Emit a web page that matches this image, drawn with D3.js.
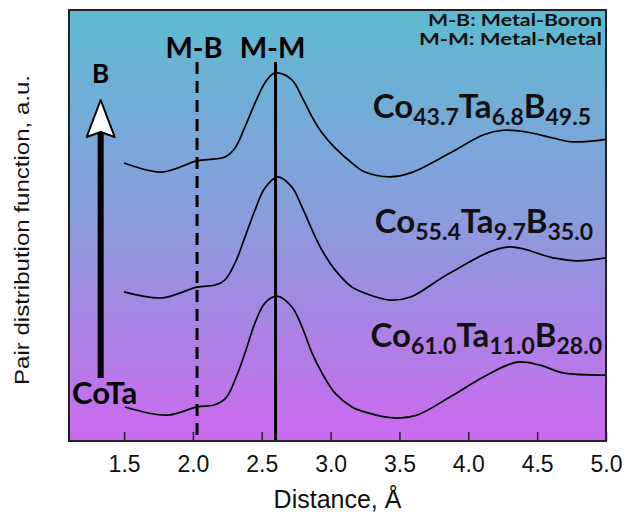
<!DOCTYPE html>
<html>
<head>
<meta charset="utf-8">
<script src="https://cdn.jsdelivr.net/npm/d3@7"></script>
<style>
  body { margin: 0; background: #fff; }
  svg { display: block; }
</style>
</head>
<body>
<div id="chart"></div>
<script>
const width = 635;
const height = 516;

// distance ticks (Å)
const xTicks = [1.5, 2.0, 2.5, 3.0, 3.5, 4.0, 4.5, 5.0];

// bond distance markers
const markers = [
  { label: "M-B", x: 2.03, dashed: true },
  { label: "M-M", x: 2.60, dashed: false }
];

// G(r) curves, already offset, arbitrary units
const coTa28 = [
  [1.507, 0.79], [1.812, 0.60], [2.03, 0.79], [2.16, 0.84], [2.24, 1.00],
  [2.306, 1.42], [2.378, 2.04], [2.451, 2.74], [2.523, 3.20], [2.61, 3.36],
  [2.719, 3.11], [2.792, 2.65], [2.865, 2.04], [2.937, 1.58], [3.032, 1.11],
  [3.155, 0.79], [3.25, 0.67], [3.482, 0.53], [3.627, 0.60], [3.867, 1.02],
  [4.107, 1.48], [4.353, 1.83], [4.52, 1.76], [4.688, 1.58], [5.00, 1.53]
];
const coTa35 = [
  [1.5, 3.46], [1.775, 3.32], [2.03, 3.57], [2.16, 3.62], [2.233, 3.74],
  [2.306, 4.13], [2.378, 4.73], [2.451, 5.36], [2.523, 5.87], [2.617, 6.13],
  [2.719, 5.89], [2.792, 5.43], [2.865, 4.90], [2.937, 4.43], [3.032, 3.97],
  [3.155, 3.57], [3.25, 3.43], [3.431, 3.27], [3.58, 3.34], [3.867, 3.90],
  [4.28, 4.50], [4.615, 4.25], [4.79, 4.18], [5.00, 4.25]
];
const coTa49 = [
  [1.5, 6.45], [1.775, 6.24], [2.03, 6.50], [2.15, 6.54], [2.233, 6.59],
  [2.306, 6.80], [2.378, 7.29], [2.451, 7.84], [2.523, 8.31], [2.581, 8.52],
  [2.617, 8.54], [2.719, 8.38], [2.792, 7.98], [2.865, 7.52], [2.937, 7.15],
  [3.032, 6.80], [3.155, 6.45], [3.25, 6.24], [3.431, 6.13], [3.58, 6.22],
  [3.867, 6.68], [4.107, 7.10], [4.252, 7.21], [4.42, 7.17], [4.615, 7.03],
  [4.76, 6.94], [5.00, 7.00]
];

// composition labels: [element, subscript] pairs
const labels = [
  { parts: [["Co", "43.7"], ["Ta", "6.8"], ["B", "49.5"]], x: 591, y: 118 },
  { parts: [["Co", "55.4"], ["Ta", "9.7"], ["B", "35.0"]], x: 593, y: 233 },
  { parts: [["Co", "61.0"], ["Ta", "11.0"], ["B", "28.0"]], x: 602, y: 347 }
];
const legendLines = ["M-B: Metal-Boron", "M-M: Metal-Metal"];

const margin = { top: 10, right: 29, bottom: 75, left: 69 };

const svg = d3.select("#chart").append("svg")
  .attr("width", width)
  .attr("height", height);

const x = d3.scaleLinear().domain([1.1, 5.0]).range([margin.left, width - margin.right]);
const y = d3.scaleLinear().domain([0, 10]).range([height - margin.bottom, margin.top]);

const defs = svg.append("defs");
const grad = defs.append("linearGradient")
  .attr("id", "bg")
  .attr("x1", 0).attr("y1", 0).attr("x2", 0).attr("y2", 1);
grad.append("stop").attr("offset", "0%").attr("stop-color", "#5dbbd1");
grad.append("stop").attr("offset", "50%").attr("stop-color", "#8b9bdc");
grad.append("stop").attr("offset", "100%").attr("stop-color", "#cc69ef");

const plotW = x.range()[1] - x.range()[0];
const plotH = y.range()[0] - y.range()[1];

svg.append("rect")
  .attr("x", margin.left)
  .attr("y", margin.top)
  .attr("width", plotW)
  .attr("height", plotH)
  .attr("fill", "url(#bg)");

// x axis, ticks point inward
const xAxis = svg.append("g")
  .attr("transform", `translate(0,${y.range()[0]})`)
  .call(d3.axisBottom(x)
    .tickValues(xTicks)
    .tickSize(-9)
    .tickPadding(15)
    .tickFormat(d3.format(".1f")));
xAxis.select(".domain").remove();
xAxis.selectAll(".tick line").attr("stroke", "#222").attr("stroke-width", 1.5);
xAxis.selectAll(".tick text")
  .attr("font-family", "Liberation Sans, Arial, sans-serif")
  .attr("font-size", 23)
  .attr("fill", "#111");

// marker lines
svg.selectAll(".marker")
  .data(markers)
  .join("line")
  .attr("class", "marker")
  .attr("x1", (d) => x(d.x))
  .attr("x2", (d) => x(d.x))
  .attr("y1", 62)
  .attr("y2", y.range()[0])
  .attr("stroke", "#000")
  .attr("stroke-width", 3)
  .attr("stroke-dasharray", (d) => (d.dashed ? "12,7" : null));

svg.selectAll(".marker-label")
  .data(markers)
  .join("text")
  .attr("class", "marker-label")
  .attr("x", (d) => x(d.x) - 3)
  .attr("y", 58)
  .attr("text-anchor", "middle")
  .attr("font-family", "Lato, sans-serif")
  .attr("font-weight", 700)
  .attr("font-size", 29)
  .text((d) => d.label);

// curves
const line = d3.line()
  .x((d) => x(d[0]))
  .y((d) => y(d[1]))
  .curve(d3.curveCatmullRom.alpha(0.5));

svg.selectAll(".pdf")
  .data([coTa28, coTa35, coTa49])
  .join("path")
  .attr("class", "pdf")
  .attr("d", line)
  .attr("fill", "none")
  .attr("stroke", "#000")
  .attr("stroke-width", 1.7);

// composition labels with subscripts
labels.forEach((l) => {
  const t = svg.append("text")
    .attr("x", l.x)
    .attr("y", l.y)
    .attr("text-anchor", "end")
    .attr("font-family", "Lato, sans-serif")
    .attr("font-weight", 700)
    .attr("fill", "#111");
  l.parts.forEach((p, i) => {
    t.append("tspan")
      .attr("font-size", 33)
      .attr("dy", i === 0 ? 0 : -7)
      .text(p[0]);
    t.append("tspan")
      .attr("font-size", 23)
      .attr("dy", 7)
      .text(p[1]);
  });
});

// legend text, top right
svg.selectAll(".legend")
  .data(legendLines)
  .join("text")
  .attr("class", "legend")
  .attr("x", 602)
  .attr("y", (d, i) => 26 + i * 19)
  .attr("text-anchor", "end")
  .attr("font-family", "Lato, sans-serif")
  .attr("font-weight", 700)
  .attr("font-size", 17)
  .attr("textLength", (d, i) => (i === 0 ? 174 : 183))
  .attr("lengthAdjust", "spacingAndGlyphs")
  .attr("fill", "#111")
  .text((d) => d);

// B arrow
const ax = x(1.33);
svg.append("rect")
  .attr("x", ax - 3)
  .attr("y", 132)
  .attr("width", 6)
  .attr("height", 246)
  .attr("fill", "#000");
svg.append("path")
  .attr("d", `M${ax},100 L${ax + 14},137 L${ax},132 L${ax - 14},137 Z`)
  .attr("fill", "#fff")
  .attr("stroke", "#000")
  .attr("stroke-width", 2)
  .attr("stroke-linejoin", "round");
svg.append("text")
  .attr("x", ax)
  .attr("y", 83)
  .attr("text-anchor", "middle")
  .attr("font-family", "Lato, sans-serif")
  .attr("font-weight", 700)
  .attr("font-size", 26)
  .text("B");
svg.append("text")
  .attr("x", 72)
  .attr("y", 404)
  .attr("font-family", "Lato, sans-serif")
  .attr("font-weight", 700)
  .attr("font-size", 31)
  .text("CoTa");

// frame
svg.append("rect")
  .attr("x", margin.left)
  .attr("y", margin.top)
  .attr("width", plotW)
  .attr("height", plotH)
  .attr("fill", "none")
  .attr("stroke", "#222")
  .attr("stroke-width", 2);

// axis titles
svg.append("text")
  .attr("x", (x.range()[0] + x.range()[1]) / 2)
  .attr("y", 508)
  .attr("text-anchor", "middle")
  .attr("font-family", "Liberation Sans, Arial, sans-serif")
  .attr("font-size", 25)
  .attr("fill", "#111")
  .text("Distance, Å");

svg.append("text")
  .attr("transform", "translate(29,230) rotate(-90)")
  .attr("text-anchor", "middle")
  .attr("font-family", "Liberation Sans, Arial, sans-serif")
  .attr("font-size", 20)
  .attr("textLength", 310)
  .attr("lengthAdjust", "spacingAndGlyphs")
  .attr("fill", "#111")
  .text("Pair distribution function, a.u.");
</script>
</body>
</html>
